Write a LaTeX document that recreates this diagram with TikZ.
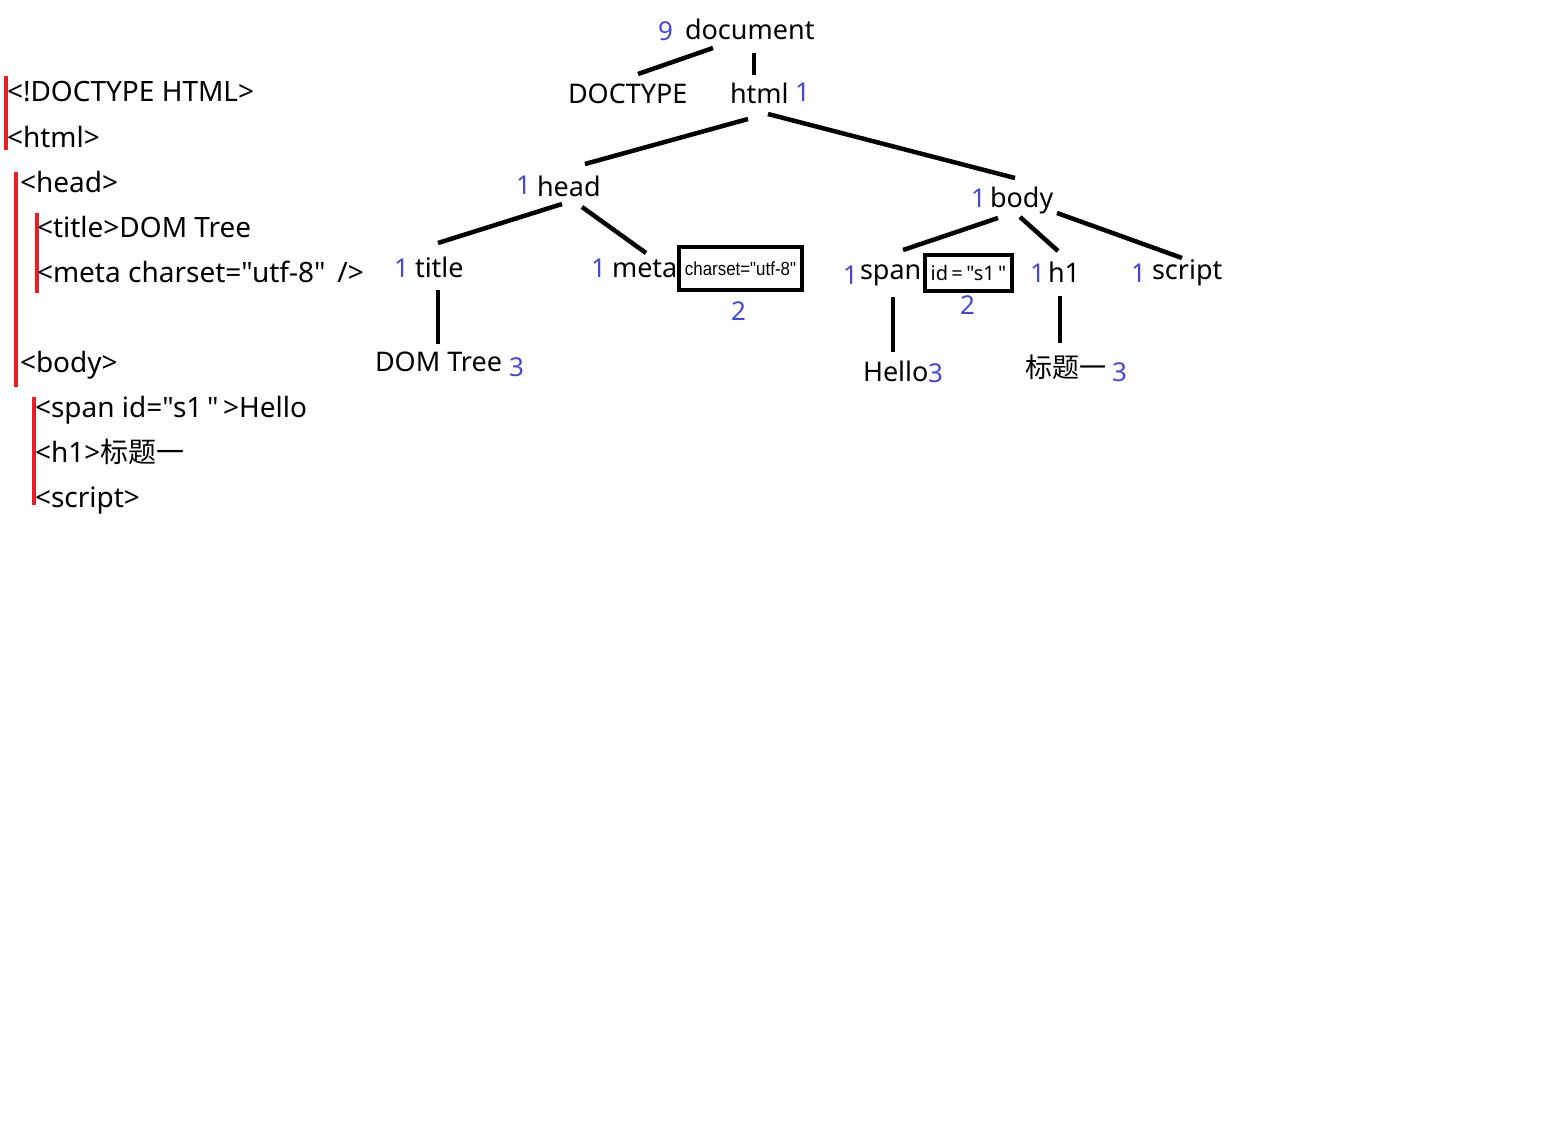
\documentclass[tikz,border=0pt]{standalone}
\usepackage{fontspec}
\setmainfont{Noto Sans}[Ligatures=TeXOff]
\newfontfamily\cjk{Noto Sans CJK SC}
\newfontfamily\narrowfont{Liberation Sans}[Ligatures=TeXOff]
\usepackage{graphicx}
\definecolor{numblue}{RGB}{68,72,214}
\definecolor{barred}{RGB}{237,28,36}
\begin{document}
\begin{tikzpicture}[x=1pt,y=-1pt,
  every node/.style={inner sep=0pt,outer sep=0pt,anchor=west,text depth=0pt},
  code/.style={font=\fontsize{28}{32}\selectfont,text height=20pt},
  tag/.style={font=\fontsize{27}{30}\selectfont,text height=19pt},
  num/.style={font=\fontsize{26}{30}\selectfont,text=numblue,text height=18.5pt},
  edge/.style={line width=4.5pt},
  bar/.style={draw=barred,line width=4.5pt},
  attr/.style={draw,line width=4.5pt,anchor=center,minimum width=#1,text height=,text depth=}]
% canvas
\fill[white] (0,0) rectangle (1564,1140);
\useasboundingbox (0,0) rectangle (1564,1140);

% ---------- source listing ----------
\node[code] (c1) at (7,92) {<!DOCTYPE HTML>};
\node[code] (c2) at (7,137) {<html>};
\node[code] (c3) at (20,182) {<head>};
\node[code] (c4) at (37,227) {<title>DOM Tree};
\node[code] (c5) at (37,272) {<meta charset="utf-8"\ \,/>};
\node[code] (c6) at (20,362) {<body>};
\node[code] (c7) at (35,407) {<span id="s1\,"\,>Hello};
\node[code] (c8) at (35,452) {<h1>{\cjk 标题一}};
\node[code] (c9) at (35,497) {<script>};

% nesting bars
\draw[bar] (6,76) -- (6,150);
\draw[bar] (16,172) -- (16,387);
\draw[bar] (37,213) -- (37,293);
\draw[bar] (34,397) -- (34,505);

% ---------- tree nodes ----------
\node[tag] (doc) at (685,30.5) {document};
\node[tag] (doctype) at (568,94) {DOCTYPE};
\node[tag] (html) at (730,94) {html};
\node[tag] (head) at (537,187) {head};
\node[tag] (body) at (990,198) {body};
\node[tag] (title) at (415,268) {title};
\node[tag] (meta) at (612,268) {meta};
\node[tag] (span) at (860,270) {span};
\node[tag] (h1) at (1048,273) {h1};
\node[tag] (script) at (1152,270) {script};
\node[tag] (domtree) at (375,362) {DOM Tree};
\node[tag] (hello) at (863,372) {Hello};
\node[tag] (biaoti) at (1025,368) {\cjk 标题一};

% attribute boxes
\node[attr=123pt,minimum height=43pt] (charset) at (740.5,268.5)
  {\narrowfont\fontsize{19}{22}\selectfont\scalebox{0.89}[1]{charset="utf-8"}};
\node[attr=87pt,minimum height=36pt] (idattr) at (968.5,273)
  {\fontsize{20}{22}\selectfont id\,=\,"s1\,"};

% node counts
\node[num] (n-doc) at (658,31.7) {9};
\node[num] (n-html) at (795,92) {1};
\node[num] (n-head) at (516,185) {1};
\node[num] (n-title) at (394,268) {1};
\node[num] (n-domtree) at (509,367) {3};
\node[num] (n-meta) at (591,268) {1};
\node[num] (n-charset) at (731,311) {2};
\node[num] (n-body) at (971,198) {1};
\node[num] (n-span) at (843,275) {1};
\node[num] (n-id) at (960,305) {2};
\node[num] (n-h1) at (1030,273) {1};
\node[num] (n-script) at (1131,273) {1};
\node[num] (n-hello) at (928,373) {3};
\node[num] (n-biaoti) at (1112,372) {3};

% ---------- tree edges ----------
\draw[edge] ([shift={(28,17.5)}]doc.west) -- ([shift={(70,-20)}]doctype.west);
\draw[edge] ([shift={(69,22.5)}]doc.west) -- ([shift={(24,-19)}]html.west);
\draw[edge] ([shift={(18,25)}]html.west) -- ([shift={(48,-23)}]head.west);
\draw[edge] ([shift={(38,20)}]html.west) -- ([shift={(25,-20)}]body.west);
\draw[edge] ([shift={(25,17)}]head.west) -- ([shift={(23,-25)}]title.west);
\draw[edge] ([shift={(45,20)}]head.west) -- ([shift={(34,-15)}]meta.west);
\draw[edge] ([shift={(23,22)}]title.west) -- ([shift={(63,-18)}]domtree.west);
\draw[edge] ([shift={(8,20)}]body.west) -- ([shift={(43,-20)}]span.west);
\draw[edge] ([shift={(30,19)}]body.west) -- ([shift={(10,-22)}]h1.west);
\draw[edge] ([shift={(67,15)}]body.west) -- ([shift={(30,-12)}]script.west);
\draw[edge] ([shift={(33,27)}]span.west) -- ([shift={(30,-20)}]hello.west);
\draw[edge] ([shift={(12,23)}]h1.west) -- ([shift={(35,-25)}]biaoti.west);
\end{tikzpicture}
\end{document}
